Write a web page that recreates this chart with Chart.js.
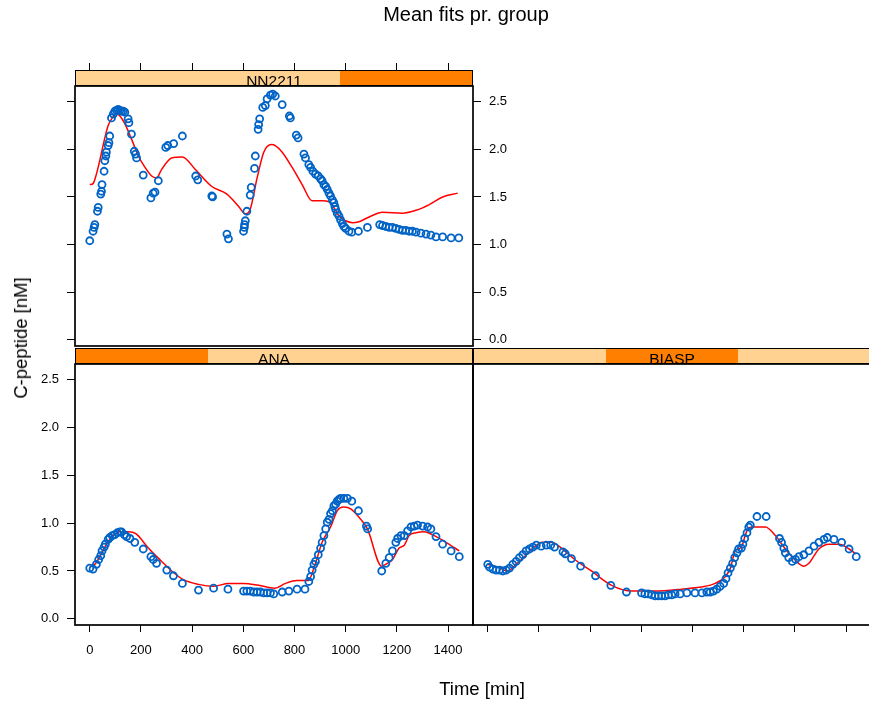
<!DOCTYPE html>
<html>
<head>
<meta charset="utf-8">
<script src="https://cdn.jsdelivr.net/npm/chart.js@4.4.0/dist/chart.umd.min.js"></script>
<style>
  html, body { margin: 0; padding: 0; background: #fff; overflow: hidden; }
  body { width: 869px; height: 702px; position: relative; font-family: "Liberation Sans", Arial, sans-serif; color: #000; }
  canvas { position: absolute; left: 0; top: 0; }
  .strip { position: absolute; height: 16px; box-sizing: border-box; border: 1px solid #000;
           font-size: 15.5px; line-height: 19px; text-align: center; overflow: visible; }
  .lbl { position: absolute; white-space: nowrap; }
</style>
</head>
<body>
<canvas id="nn2211" width="869" height="702"></canvas>
<canvas id="ana" width="869" height="702"></canvas>
<canvas id="biasp" width="900" height="702"></canvas>

<div class="strip" style="left:75px; top:70px; width:398px; background:linear-gradient(to right, #FFD292 0, #FFD292 66.67%, #FF7F00 66.67%, #FF7F00 100%);">NN2211</div>
<div class="strip" style="left:75px; top:348px; width:398px; background:linear-gradient(to right, #FF7F00 0, #FF7F00 33.33%, #FFD292 33.33%, #FFD292 100%);">ANA</div>
<div class="strip" style="left:473px; top:348px; width:398px; background:linear-gradient(to right, #FFD292 0, #FFD292 33.33%, #FF7F00 33.33%, #FF7F00 66.67%, #FFD292 66.67%, #FFD292 100%);">BIASP</div>

<div class="lbl" style="left:466px; top:3px; transform:translateX(-50%); font-size:20px;">Mean fits pr. group</div>
<div class="lbl" style="left:482px; top:678px; transform:translateX(-50%); font-size:18.5px;">Time [min]</div>
<div class="lbl" style="left:21px; top:338px; transform:translate(-50%,-50%) rotate(-90deg); font-size:18.5px;">C-peptide [nM]</div>

<script>
// NN2211 group: observed means and fitted curve
const nnTime = [0,13,17,20,30,33,43,46,48,56,59,63,65,72,75,78,85,92,98,105,111,118,124,131,137,150,153,163,174,179,183,209,239,248,255,268,297,305,328,362,414,422,477,480,536,542,601,604,605,608,614,627,631,644,647,658,660,664,676,686,693,706,715,725,752,780,784,807,814,837,843,856,863,872,882,893,902,908,915,922,928,935,941,948,954,958,961,967,974,980,987,993,1000,1013,1024,1050,1085,1133,1144,1157,1170,1183,1196,1209,1222,1235,1248,1261,1275,1294,1314,1333,1353,1379,1412,1442];
const nnCpep = [1.04,1.14,1.18,1.21,1.35,1.39,1.53,1.56,1.63,1.77,1.88,1.93,1.97,2.04,2.07,2.14,2.33,2.37,2.40,2.41,2.42,2.41,2.40,2.40,2.39,2.32,2.28,2.16,1.98,1.95,1.91,1.73,1.49,1.54,1.55,1.67,2.02,2.04,2.06,2.14,1.72,1.68,1.51,1.50,1.11,1.06,1.14,1.18,1.21,1.25,1.35,1.52,1.60,1.80,1.93,2.21,2.26,2.32,2.44,2.46,2.53,2.57,2.58,2.56,2.47,2.35,2.33,2.15,2.12,1.95,1.91,1.84,1.81,1.77,1.74,1.72,1.69,1.67,1.63,1.61,1.58,1.54,1.51,1.47,1.44,1.40,1.37,1.33,1.30,1.26,1.22,1.19,1.17,1.14,1.13,1.14,1.18,1.21,1.20,1.19,1.18,1.18,1.17,1.16,1.15,1.15,1.14,1.14,1.13,1.12,1.11,1.10,1.08,1.08,1.07,1.07];
const nnFitTime = [0,13,26,39,59,72,88,105,118,137,163,190,216,242,261,281,320,362,412,477,536,582,608,627,654,680,710,725,752,791,830,869,908,935,954,974,1000,1026,1052,1092,1144,1222,1275,1327,1379,1438];
const nnFit = [1.63,1.64,1.74,1.88,2.12,2.25,2.33,2.37,2.35,2.27,2.11,1.93,1.81,1.72,1.70,1.79,1.91,1.92,1.79,1.61,1.53,1.40,1.32,1.37,1.70,1.97,2.05,2.04,1.97,1.81,1.63,1.46,1.46,1.45,1.39,1.30,1.25,1.23,1.24,1.29,1.34,1.33,1.36,1.42,1.50,1.54];

// ANA group
const anaTime = [0,13,26,35,43,48,56,61,72,78,88,98,108,118,124,135,144,157,176,209,239,248,261,301,327,362,425,484,540,601,614,627,641,654,667,680,693,706,719,752,778,810,841,856,863,869,876,882,893,902,908,915,922,928,935,941,948,954,961,967,974,980,993,1007,1024,1050,1081,1086,1141,1157,1170,1183,1196,1203,1216,1229,1242,1255,1268,1281,1301,1320,1333,1353,1379,1412,1444];
const anaCpep = [0.53,0.52,0.57,0.62,0.66,0.71,0.75,0.78,0.83,0.85,0.87,0.88,0.90,0.91,0.91,0.88,0.86,0.84,0.80,0.73,0.65,0.62,0.58,0.51,0.45,0.37,0.30,0.32,0.31,0.29,0.29,0.29,0.28,0.28,0.28,0.27,0.27,0.27,0.26,0.28,0.29,0.31,0.31,0.39,0.44,0.51,0.57,0.60,0.67,0.74,0.80,0.87,0.94,1.01,1.04,1.10,1.13,1.18,1.20,1.23,1.25,1.26,1.26,1.26,1.23,1.13,0.97,0.94,0.50,0.58,0.64,0.71,0.80,0.84,0.87,0.87,0.92,0.96,0.97,0.98,0.97,0.96,0.94,0.86,0.78,0.71,0.65];
const anaFitTime = [0,20,39,59,85,118,150,180,229,281,320,366,425,484,542,601,660,722,765,810,854,882,908,941,967,993,1020,1059,1085,1141,1163,1183,1209,1229,1248,1275,1307,1346,1392,1444];
const anaFit = [0.54,0.57,0.65,0.75,0.85,0.91,0.91,0.89,0.74,0.60,0.50,0.41,0.36,0.34,0.37,0.37,0.35,0.32,0.37,0.40,0.40,0.58,0.80,0.96,1.13,1.17,1.15,1.04,0.94,0.55,0.58,0.62,0.74,0.77,0.87,0.90,0.91,0.87,0.80,0.71];

// BIASP group
const biaspTime = [0,7,20,33,46,59,72,85,98,111,124,137,150,163,176,190,209,229,246,261,294,303,327,363,421,481,542,601,614,627,641,654,667,680,693,706,719,732,752,778,810,837,856,869,882,895,908,922,931,939,948,957,965,974,980,991,997,1004,1013,1020,1026,1052,1088,1140,1148,1157,1163,1176,1190,1203,1216,1235,1255,1275,1294,1314,1327,1353,1383,1412,1440];
const biaspCpep = [0.57,0.54,0.52,0.51,0.51,0.50,0.51,0.53,0.57,0.60,0.64,0.67,0.71,0.73,0.75,0.77,0.76,0.77,0.77,0.75,0.70,0.68,0.63,0.55,0.45,0.35,0.28,0.27,0.26,0.26,0.25,0.24,0.24,0.24,0.24,0.25,0.25,0.26,0.26,0.27,0.27,0.27,0.28,0.28,0.29,0.31,0.34,0.37,0.42,0.48,0.53,0.58,0.64,0.69,0.73,0.74,0.78,0.84,0.90,0.96,0.98,1.07,1.07,0.84,0.80,0.74,0.69,0.64,0.60,0.62,0.65,0.67,0.71,0.76,0.80,0.83,0.85,0.83,0.80,0.73,0.65];
const biaspFitTime = [0,39,78,111,144,176,216,248,288,340,405,484,562,654,758,850,889,928,948,967,980,993,1007,1020,1039,1085,1124,1163,1203,1235,1255,1294,1333,1373,1412,1438];
const biaspFit = [0.57,0.54,0.50,0.57,0.65,0.74,0.80,0.80,0.74,0.62,0.50,0.35,0.29,0.29,0.31,0.34,0.37,0.44,0.53,0.71,0.73,0.76,0.88,0.95,0.96,0.96,0.87,0.73,0.61,0.55,0.58,0.73,0.78,0.78,0.73,0.68];

// shared axis limits (lattice pads the data range by 4%)
const X_MIN = -57.6, X_MAX = 1497.6;
const Y_MIN = -0.065, Y_MAX = 2.665;

const FONT = { family: '"Liberation Sans", Arial, sans-serif', size: 13 };
const POINT_COL = '#0063C6';
const LINE_COL = '#FF0000';

// force axis box size so each panel lands where lattice put it
function fixSize(size) {
    return function(scale) {
        if (scale.isHorizontal()) scale.height = size; else scale.width = size;
        scale.paddingLeft = scale.paddingRight = scale.paddingTop = scale.paddingBottom = 0;
    };
}

function xAxis(position, size, labels) {
    return {
        type: 'linear', position: position, min: X_MIN, max: X_MAX,
        ticks: { display: labels, stepSize: 200, includeBounds: false, color: '#000', font: FONT,
                 padding: 11, maxRotation: 0, autoSkip: false, callback: v => String(v) },
        grid: { drawOnChartArea: false, tickLength: position === 'top' ? 23 : 7, tickColor: '#000', tickWidth: 1 },
        border: { display: false },
        afterFit: fixSize(size)
    };
}

function yAxis(position, size, labels) {
    return {
        type: 'linear', position: position, min: Y_MIN, max: Y_MAX,
        ticks: { display: labels, stepSize: 0.5, includeBounds: false, color: '#000', font: FONT,
                 padding: 8, callback: v => v.toFixed(1) },
        grid: { drawOnChartArea: false, tickLength: 8, tickColor: '#000', tickWidth: 1 },
        border: { display: false },
        afterFit: fixSize(size)
    };
}

const panelBorder = {
    id: 'panelBorder',
    afterDraw(chart) {
        const a = chart.chartArea, ctx = chart.ctx;
        ctx.save();
        ctx.strokeStyle = '#000';
        ctx.lineWidth = 1.7;
        ctx.strokeRect(a.left, a.top, a.right - a.left, a.bottom - a.top);
        ctx.restore();
    }
};

function toXY(xs, ys) {
    return xs.map((x, i) => ({ x: x, y: ys[i] }));
}

function makePanel(canvasId, time, cpep, fitTime, fit, scales, padding) {
    const ctx = document.getElementById(canvasId).getContext('2d');
    return new Chart(ctx, {
        type: 'scatter',
        data: {
            datasets: [{
                label: 'mean',
                data: toXY(time, cpep),
                pointStyle: 'circle',
                pointRadius: 3.5,
                pointBorderWidth: 1.8,
                borderColor: POINT_COL,
                backgroundColor: 'rgba(0,0,0,0)',
                showLine: false
            }, {
                label: 'fit',
                data: toXY(fitTime, fit),
                showLine: true,
                pointRadius: 0,
                borderColor: LINE_COL,
                borderWidth: 1.5,
                cubicInterpolationMode: 'monotone',
                fill: false
            }]
        },
        options: {
            responsive: false,
            animation: false,
            layout: { padding: padding },
            scales: scales,
            plugins: { legend: { display: false }, tooltip: { enabled: false } }
        },
        plugins: [panelBorder]
    });
}

// top-left panel: ticks on top and left, labels on the right
makePanel('nn2211', nnTime, nnCpep, nnFitTime, nnFit, {
    x: xAxis('top', 30, false),
    y: yAxis('left', 75, false),
    y2: yAxis('right', 60, true)
}, { left: 0, right: 336, top: 56, bottom: 356 });

// bottom-left panel: labels on left and bottom
makePanel('ana', anaTime, anaCpep, anaFitTime, anaFit, {
    x: xAxis('bottom', 40, true),
    y: yAxis('left', 75, true)
}, { left: 0, right: 396, top: 364, bottom: 37 });

// bottom-right panel: bottom ticks only
const biaspScales = {
    x: xAxis('bottom', 20, false),
    y: { type: 'linear', display: false, min: Y_MIN, max: Y_MAX }
};
makePanel('biasp', biaspTime, biaspCpep, biaspFitTime, biaspFit, biaspScales,
    { left: 473, right: 29, top: 364, bottom: 57 });
</script>
</body>
</html>
